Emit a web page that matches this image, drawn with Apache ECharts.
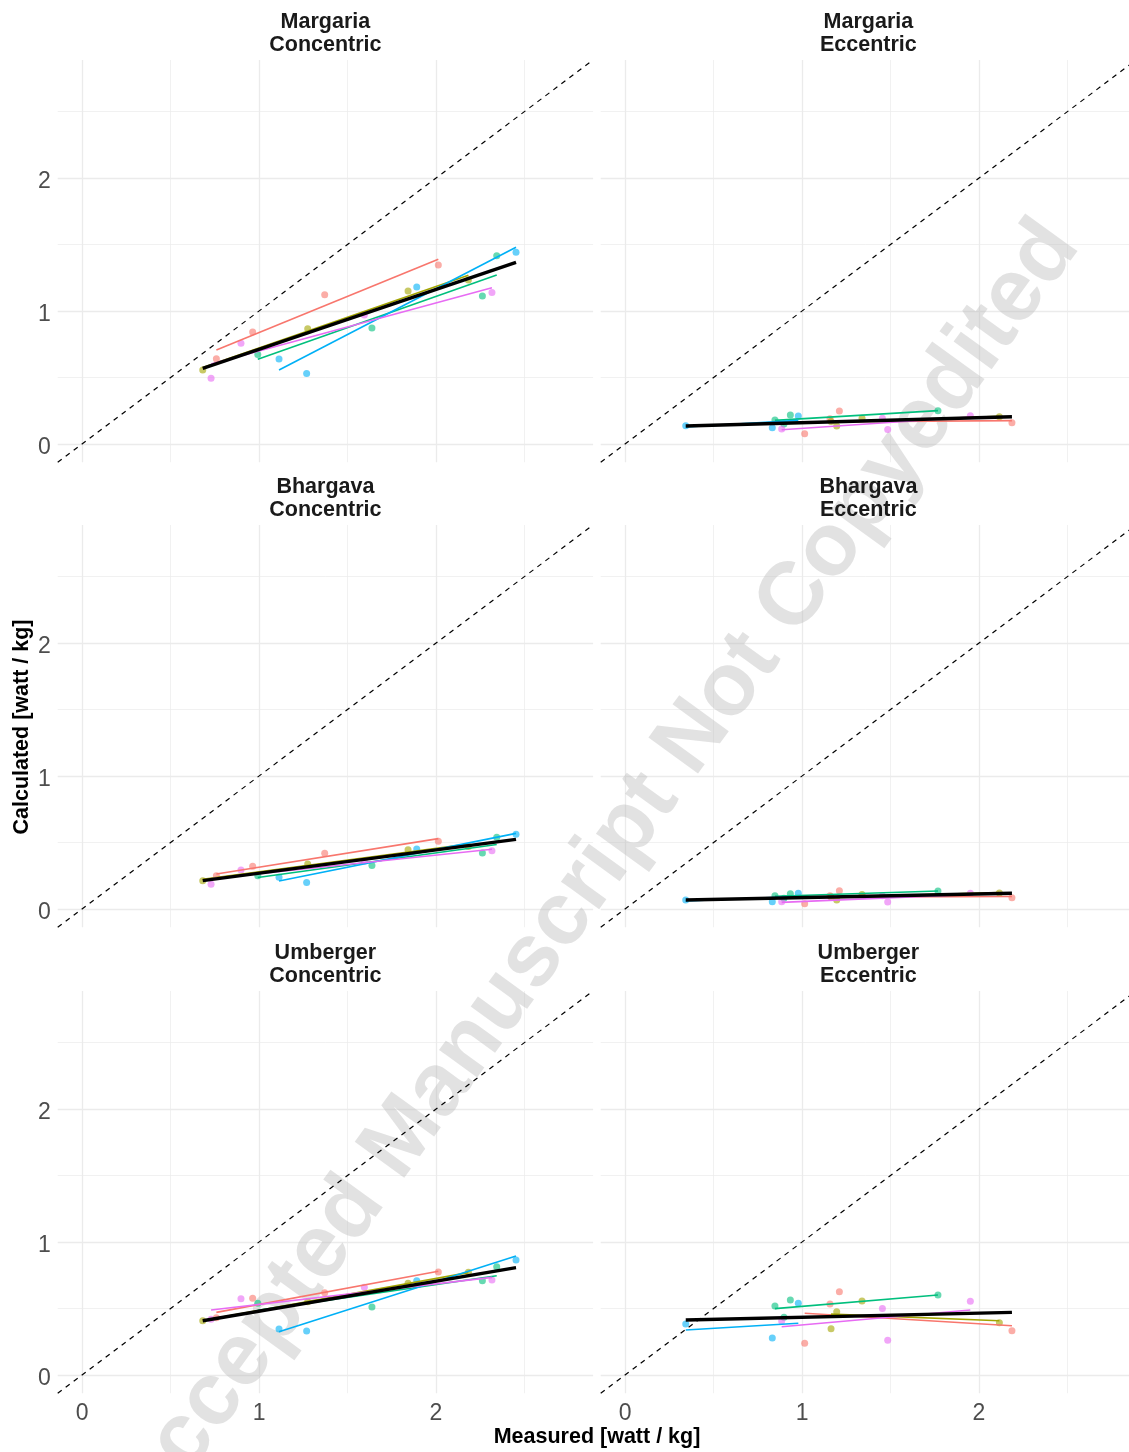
<!DOCTYPE html>
<html><head><meta charset="utf-8">
<script src="https://cdn.jsdelivr.net/npm/echarts@6/dist/echarts.min.js"></script>
<style>html,body{margin:0;padding:0;background:#fff}#c{width:1129px;height:1452px}</style>
</head><body><div id="c"></div>
<script>
// ---------- data ----------
const subjectColors = ['#F8766D', '#A3A500', '#00BF7D', '#00B0F6', '#E76BF3'];
const models = ['Margaria', 'Bhargava', 'Umberger'];
const contractions = ['Concentric', 'Eccentric'];
const majorTicks = [0, 1, 2];
const minorTicks = [0.5, 1.5, 2.5];
const axisLimits = [-0.1375, 2.8875];

// measured power per subject (x)
const measuredConcentric = [
  [0.759, 0.964, 1.371, 2.013],
  [0.682, 1.275, 1.842, 2.183],
  [0.993, 1.638, 2.262, 2.343],
  [1.113, 1.269, 1.891, 2.452],
  [0.729, 0.898, 1.595, 2.316]
];
const measuredEccentric = [
  [1.015, 1.158, 1.211, 2.186],
  [1.164, 1.196, 1.339, 2.115],
  [0.847, 0.898, 0.934, 1.768],
  [0.343, 0.832, 0.979],
  [0.885, 1.454, 1.484, 1.951]
];

// calculated power per subject (y)
const margariaConcentric = [
  [0.642, 0.842, 1.123, 1.346],
  [0.556, 0.867, 1.150, 1.233],
  [0.674, 0.872, 1.113, 1.416],
  [0.639, 0.531, 1.180, 1.441],
  [0.494, 0.757, 0.970, 1.140]
];
const margariaEccentric = [
  [0.078, 0.190, 0.248, 0.160],
  [0.170, 0.135, 0.193, 0.205],
  [0.180, 0.150, 0.218, 0.250],
  [0.138, 0.123, 0.211],
  [0.113, 0.193, 0.110, 0.213]
];
const bhargavaConcentric = [
  [0.250, 0.321, 0.419, 0.509],
  [0.213, 0.338, 0.446, 0.470],
  [0.251, 0.328, 0.421, 0.539],
  [0.238, 0.200, 0.451, 0.562],
  [0.186, 0.293, 0.360, 0.438]
];
const bhargavaEccentric = [
  [0.040, 0.100, 0.138, 0.085],
  [0.090, 0.068, 0.110, 0.120],
  [0.100, 0.080, 0.115, 0.135],
  [0.068, 0.055, 0.118],
  [0.055, 0.100, 0.053, 0.118]
];
const umbergerConcentric = [
  [0.430, 0.577, 0.619, 0.774],
  [0.408, 0.550, 0.690, 0.772],
  [0.539, 0.511, 0.709, 0.814],
  [0.346, 0.331, 0.709, 0.865],
  [0.420, 0.574, 0.659, 0.714]
];
const umbergerEccentric = [
  [0.238, 0.534, 0.627, 0.333],
  [0.348, 0.476, 0.556, 0.393],
  [0.519, 0.434, 0.564, 0.602],
  [0.383, 0.278, 0.539],
  [0.406, 0.501, 0.261, 0.554]
];

// fitted values per subject at its smallest and largest measured value
const margariaConcentricFit = [[0.707, 1.389], [0.575, 1.269], [0.637, 1.271], [0.556, 1.479], [0.601, 1.175]];
const margariaEccentricFit  = [[0.165, 0.176], [0.162, 0.208], [0.178, 0.251], [0.128, 0.178], [0.107, 0.203]];
const bhargavaConcentricFit = [[0.263, 0.529], [0.223, 0.488], [0.237, 0.485], [0.211, 0.569], [0.228, 0.449]];
const bhargavaEccentricFit  = [[0.089, 0.094], [0.086, 0.123], [0.096, 0.135], [0.061, 0.094], [0.050, 0.110]];
const umbergerConcentricFit = [[0.471, 0.780], [0.410, 0.770], [0.486, 0.747], [0.326, 0.895], [0.489, 0.734]];
const umbergerEccentricFit  = [[0.464, 0.371], [0.458, 0.408], [0.499, 0.602], [0.338, 0.389], [0.363, 0.489]];

// overall fit (all subjects) at the smallest and largest measured value
const margariaConcentricOverall = [0.569, 1.366];
const margariaEccentricOverall  = [0.135, 0.205];
const bhargavaConcentricOverall = [0.213, 0.524];
const bhargavaEccentricOverall  = [0.068, 0.118];
const umbergerConcentricOverall = [0.408, 0.807];
const umbergerEccentricOverall  = [0.414, 0.471];

const panelData = {
  Margaria: {
    Concentric: { x: measuredConcentric, y: margariaConcentric, fit: margariaConcentricFit, overall: margariaConcentricOverall },
    Eccentric:  { x: measuredEccentric,  y: margariaEccentric,  fit: margariaEccentricFit,  overall: margariaEccentricOverall }
  },
  Bhargava: {
    Concentric: { x: measuredConcentric, y: bhargavaConcentric, fit: bhargavaConcentricFit, overall: bhargavaConcentricOverall },
    Eccentric:  { x: measuredEccentric,  y: bhargavaEccentric,  fit: bhargavaEccentricFit,  overall: bhargavaEccentricOverall }
  },
  Umberger: {
    Concentric: { x: measuredConcentric, y: umbergerConcentric, fit: umbergerConcentricFit, overall: umbergerConcentricOverall },
    Eccentric:  { x: measuredEccentric,  y: umbergerEccentric,  fit: umbergerEccentricFit,  overall: umbergerEccentricOverall }
  }
};

// ---------- layout ----------
const colLeft = [57.7, 600.7];
const rowTop = [60, 525, 991];
const panelW = 535.4;
const panelH = 402.3;
const FONT = '"Liberation Sans", Arial, Helvetica, sans-serif';

const grids = [], xAxes = [], yAxes = [], series = [], graphics = [];
let gi = 0;
const lo = axisLimits[0], hi = axisLimits[1];

models.forEach((m, r) => {
  contractions.forEach((c, k) => {
    const p = panelData[m][c];
    grids.push({ left: colLeft[k], top: rowTop[r], width: panelW, height: panelH,
                 containLabel: false, outerBoundsMode: 'none', show: false });
    xAxes.push({
      type: 'value', gridIndex: gi, min: lo, max: hi,
      axisLine: { show: false }, axisTick: { show: false, customValues: majorTicks },
      splitLine: { show: false },
      axisLabel: { show: r === 2, customValues: majorTicks, color: '#4D4D4D', fontSize: 23,
                   fontFamily: FONT, margin: 9, formatter: v => String(v) }
    });
    yAxes.push({
      type: 'value', gridIndex: gi, min: lo, max: hi,
      axisLine: { show: false }, axisTick: { show: false, customValues: majorTicks },
      splitLine: { show: false },
      axisLabel: { show: k === 0, customValues: majorTicks, color: '#4D4D4D', fontSize: 23,
                   fontFamily: FONT, margin: 7, lineHeight: 27, verticalAlign: 'top',
                   padding: [-10, 0, 0, 0], formatter: v => String(v) }
    });

    // grid lines
    const gridLines = (ticks, width) => ({
      type: 'lines', coordinateSystem: 'cartesian2d', xAxisIndex: gi, yAxisIndex: gi,
      z: 0, silent: true, animation: false,
      lineStyle: { color: '#EBEBEB', width: width, opacity: 1, curveness: 0 },
      data: ticks.map(v => ({ coords: [[v, lo], [v, hi]] }))
        .concat(ticks.map(v => ({ coords: [[lo, v], [hi, v]] })))
    });
    series.push(gridLines(minorTicks, 0.7));
    series.push(gridLines(majorTicks, 1.3));

    // points
    p.x.forEach((xs, s) => {
      series.push({
        type: 'scatter', xAxisIndex: gi, yAxisIndex: gi, z: 2, silent: true,
        symbol: 'circle', symbolSize: 7,
        itemStyle: { color: subjectColors[s], opacity: 0.6 },
        data: xs.map((x, i) => [x, p.y[s][i]])
      });
    });
    // subject fits
    p.x.forEach((xs, s) => {
      const x0 = Math.min(...xs), x1 = Math.max(...xs);
      series.push({
        type: 'line', xAxisIndex: gi, yAxisIndex: gi, z: 3, silent: true,
        symbol: 'none', lineStyle: { color: subjectColors[s], width: 1.6 },
        data: [[x0, p.fit[s][0]], [x1, p.fit[s][1]]]
      });
    });
    // overall fit
    const allX = [].concat(...p.x);
    series.push({
      type: 'line', xAxisIndex: gi, yAxisIndex: gi, z: 4, silent: true,
      symbol: 'none', lineStyle: { color: '#000000', width: 3.4 },
      data: [[Math.min(...allX), p.overall[0]], [Math.max(...allX), p.overall[1]]]
    });
    // identity line
    series.push({
      type: 'line', xAxisIndex: gi, yAxisIndex: gi, z: 5, silent: true,
      symbol: 'none', lineStyle: { color: '#000000', width: 1.2, type: [5, 5] },
      data: [[lo, lo], [hi, hi]]
    });

    // strip label
    graphics.push({
      type: 'text', z: 10, silent: true,
      x: colLeft[k] + panelW / 2, y: rowTop[r] - 26.3,
      style: { text: m + '\n' + c, textAlign: 'center', textVerticalAlign: 'middle',
               font: 'bold 21.5px ' + FONT, lineHeight: 23, fill: '#1A1A1A' }
    });
    gi++;
  });
});

// axis titles
graphics.push({
  type: 'text', silent: true, z: 10, x: 597, y: 1437.5,
  style: { text: 'Measured [watt / kg]', textAlign: 'center', textVerticalAlign: 'middle',
           font: 'bold 21.5px ' + FONT, fill: '#000000' }
});
graphics.push({
  type: 'text', silent: true, z: 10, x: 22, y: 727, rotation: Math.PI / 2,
  style: { text: 'Calculated [watt / kg]', textAlign: 'center', textVerticalAlign: 'middle',
           font: 'bold 21.5px ' + FONT, fill: '#000000' }
});
// watermark
graphics.push({
  type: 'text', silent: true, z: 1, x: 596, y: 872, rotation: 54 * Math.PI / 180,
  style: { text: 'Accepted Manuscript Not Copyedited', textAlign: 'center', textVerticalAlign: 'middle',
           font: 'bold 89px ' + FONT, fill: 'rgba(185,185,185,0.42)' }
});

const chart = echarts.init(document.getElementById('c'), null, { renderer: 'canvas' });
chart.setOption({
  backgroundColor: '#ffffff',
  animation: false,
  grid: grids, xAxis: xAxes, yAxis: yAxes, series: series,
  graphic: { elements: graphics }
});
</script>
</body></html>
